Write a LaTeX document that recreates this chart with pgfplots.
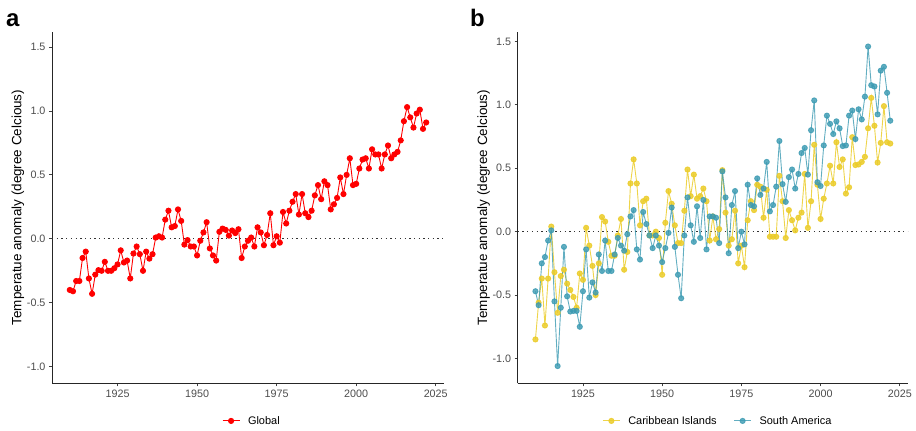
\documentclass[border=0pt]{standalone}
\usepackage{fontspec}
\setmainfont{Liberation Sans}
\usepackage{pgfplots}
\pgfplotsset{compat=1.18}
\usepackage{pgfplotstable}

\definecolor{tickgrey}{HTML}{4D4D4D}
\definecolor{carib}{HTML}{EBCC2A}
\definecolor{samer}{HTML}{3B9AB2}

% global anomaly
\pgfplotstableread{
year val
1910 -0.40
1911 -0.41
1912 -0.33
1913 -0.33
1914 -0.15
1915 -0.10
1916 -0.31
1917 -0.43
1918 -0.28
1919 -0.245
1920 -0.25
1921 -0.18
1922 -0.25
1923 -0.25
1924 -0.23
1925 -0.20
1926 -0.09
1927 -0.185
1928 -0.17
1929 -0.31
1930 -0.115
1931 -0.06
1932 -0.12
1933 -0.25
1934 -0.10
1935 -0.155
1936 -0.12
1937 0.01
1938 0.02
1939 0.01
1940 0.15
1941 0.22
1942 0.09
1943 0.10
1944 0.23
1945 0.14
1946 -0.045
1947 -0.01
1948 -0.06
1949 -0.06
1950 -0.13
1951 -0.015
1952 0.05
1953 0.13
1954 -0.075
1955 -0.13
1956 -0.17
1957 0.055
1958 0.08
1959 0.07
1960 0.025
1961 0.065
1962 0.045
1963 0.075
1964 -0.15
1965 -0.06
1966 -0.015
1967 0.01
1968 -0.06
1969 0.09
1970 0.05
1971 -0.05
1972 0.03
1973 0.20
1974 -0.05
1975 0.02
1976 -0.03
1977 0.21
1978 0.12
1979 0.22
1980 0.29
1981 0.35
1982 0.19
1983 0.35
1984 0.20
1985 0.17
1986 0.22
1987 0.34
1988 0.42
1989 0.31
1990 0.45
1991 0.42
1992 0.23
1993 0.27
1994 0.32
1995 0.48
1996 0.35
1997 0.50
1998 0.63
1999 0.42
2000 0.43
2001 0.55
2002 0.62
2003 0.63
2004 0.55
2005 0.70
2006 0.66
2007 0.66
2008 0.55
2009 0.66
2010 0.73
2011 0.63
2012 0.66
2013 0.68
2014 0.77
2015 0.92
2016 1.03
2017 0.95
2018 0.87
2019 0.98
2020 1.01
2021 0.86
2022 0.91
}\globaltab

% Caribbean Islands
\pgfplotstableread{
year val
1910 -0.85
1911 -0.56
1912 -0.37
1913 -0.74
1914 -0.37
1915 0.04
1916 -0.32
1917 -0.64
1918 -0.35
1919 -0.30
1920 -0.41
1921 -0.46
1922 -0.515
1923 -0.60
1924 -0.33
1925 -0.38
1926 0.03
1927 -0.11
1928 -0.27
1929 -0.50
1930 -0.25
1931 0.115
1932 0.08
1933 -0.08
1934 -0.19
1935 -0.19
1936 -0.03
1937 0.10
1938 -0.30
1939 -0.16
1940 0.38
1941 0.57
1942 0.38
1943 0.05
1944 0.24
1945 0.26
1946 -0.03
1947 -0.03
1948 0.00
1949 -0.05
1950 -0.34
1951 0.07
1952 0.32
1953 0.22
1954 0.05
1955 -0.09
1956 -0.09
1957 0.165
1958 0.49
1959 0.28
1960 0.45
1961 0.26
1962 0.28
1963 0.34
1964 0.24
1965 -0.07
1966 0.12
1967 -0.06
1968 0.02
1969 0.485
1970 0.15
1971 -0.11
1972 -0.06
1973 0.165
1974 -0.25
1975 -0.11
1976 -0.28
1977 0.09
1978 0.24
1979 0.17
1980 0.37
1981 0.355
1982 0.11
1983 0.33
1984 -0.04
1985 -0.04
1986 -0.04
1987 0.44
1988 0.24
1989 -0.05
1990 0.17
1991 0.09
1992 0.01
1993 0.11
1994 0.15
1995 0.455
1996 0.03
1997 0.24
1998 0.685
1999 0.37
2000 0.10
2001 0.26
2002 0.38
2003 0.52
2004 0.38
2005 0.705
2006 0.51
2007 0.57
2008 0.30
2009 0.35
2010 0.745
2011 0.525
2012 0.53
2013 0.55
2014 0.59
2015 0.815
2016 1.055
2017 0.835
2018 0.545
2019 0.70
2020 0.99
2021 0.705
2022 0.695
}\caribtab

% South America
\pgfplotstableread{
year val
1910 -0.47
1911 -0.58
1912 -0.25
1913 -0.20
1914 -0.07
1915 0.01
1916 -0.55
1917 -1.06
1918 -0.60
1919 -0.12
1920 -0.51
1921 -0.63
1922 -0.625
1923 -0.625
1924 -0.75
1925 -0.47
1926 -0.14
1927 -0.52
1928 -0.40
1929 -0.48
1930 -0.18
1931 -0.31
1932 -0.07
1933 -0.31
1934 -0.31
1935 -0.18
1936 -0.05
1937 -0.11
1938 -0.15
1939 -0.02
1940 0.12
1941 0.17
1942 -0.14
1943 -0.22
1944 0.155
1945 0.06
1946 -0.03
1947 -0.13
1948 -0.03
1949 -0.11
1950 -0.24
1951 -0.13
1952 -0.01
1953 0.19
1954 -0.12
1955 -0.34
1956 -0.525
1957 -0.03
1958 0.27
1959 0.05
1960 -0.08
1961 0.20
1962 -0.05
1963 0.25
1964 -0.14
1965 0.12
1966 0.12
1967 0.11
1968 -0.09
1969 0.475
1970 0.27
1971 -0.17
1972 0.21
1973 0.32
1974 -0.13
1975 0.00
1976 -0.10
1977 0.37
1978 0.21
1979 0.20
1980 0.42
1981 0.29
1982 0.34
1983 0.55
1984 0.16
1985 0.21
1986 0.355
1987 0.715
1988 0.375
1989 0.235
1990 0.43
1991 0.49
1992 0.34
1993 0.455
1994 0.62
1995 0.66
1996 0.45
1997 0.80
1998 1.035
1999 0.39
2000 0.36
2001 0.68
2002 0.915
2003 0.85
2004 0.77
2005 0.87
2006 0.815
2007 0.675
2008 0.68
2009 0.915
2010 0.955
2011 0.73
2012 0.965
2013 0.885
2014 1.065
2015 1.46
2016 1.155
2017 1.145
2018 0.925
2019 1.27
2020 1.30
2021 1.095
2022 0.875
}\samtab

\pgfplotsset{
  anomaly/.style={
    scale only axis,
    height=351.6bp,
    xmin=1904.4, xmax=2027.6,
    axis x line*=bottom, axis y line*=left,
    axis line style={line width=0.8bp, black!85},
    tick align=outside,
    major tick length=3bp,
    tick style={line width=0.8bp, black!75},
    xtick={1925,1950,1975,2000,2025},
    ytick={-1,-0.5,0,0.5,1,1.5},
    /pgf/number format/assume math mode=true,
    xticklabel style={/pgf/number format/1000 sep={}},
    yticklabel style={/pgf/number format/.cd, fixed, fixed zerofill, precision=1},
    ticklabel style={font=\fontsize{10.8}{12}\selectfont, text=tickgrey},
    ylabel={Temperatue anomaly (degree Celcious)},
    ylabel style={font=\fontsize{13.5}{15}\selectfont, anchor=center},
    legend style={draw=none, fill=none, anchor=center,
      legend columns=-1, font=\fontsize{11}{12}\selectfont,
      /tikz/every odd column/.append style={column sep=6bp},
      /tikz/every even column/.append style={column sep=15bp}},
    legend image code/.code={\draw[mark repeat=2,mark phase=2,#1] plot coordinates {(0bp,0bp) (8.5bp,0bp) (17bp,0bp)};},
    every axis plot/.append style={line width=0.9bp, mark=*, mark size=2.6bp},
  },
  zeroline/.style={forget plot, no marks, black!80, line width=1.3bp, dash pattern=on 1.3bp off 3.4bp},
}

\begin{document}
\begin{tikzpicture}
\useasboundingbox (0,0) rectangle (916bp,431bp);

\begin{axis}[anomaly, at={(52bp,47.7bp)}, anchor=south west, width=392bp,
  ymin=-1.13, ymax=1.62,
  legend style={at={(0.51,-0.107)}},
  ylabel style={at={(axis description cs:-0.0867,0.5)}}]
\addplot[zeroline] coordinates {(1904.4,0) (2027.6,0)};
\addplot[red, mark options={fill=red, draw=red}] table[x=year, y=val] {\globaltab};
\addlegendentry{Global}
\end{axis}

\begin{axis}[anomaly, at={(517.7bp,47.7bp)}, anchor=south west, width=390.3bp,
  ymin=-1.196, ymax=1.577,
  legend style={at={(0.513,-0.107)}},
  ylabel style={at={(axis description cs:-0.0871,0.5)}}]
\addplot[zeroline] coordinates {(1904.4,0) (2027.6,0)};
\addplot[carib, opacity=0.85, mark options={fill=carib, draw=carib}] table[x=year, y=val] {\caribtab};
\addlegendentry{Caribbean Islands}
\addplot[samer, opacity=0.8, mark options={fill=samer, draw=samer}] table[x=year, y=val] {\samtab};
\addlegendentry{South America}
\end{axis}

\node[anchor=base west, font=\fontsize{24}{24}\selectfont\bfseries, inner sep=0pt] at (6bp,404bp) {a};
\node[anchor=base west, font=\fontsize{24}{24}\selectfont\bfseries, inner sep=0pt] at (470bp,404bp) {b};
\end{tikzpicture}
\end{document}
